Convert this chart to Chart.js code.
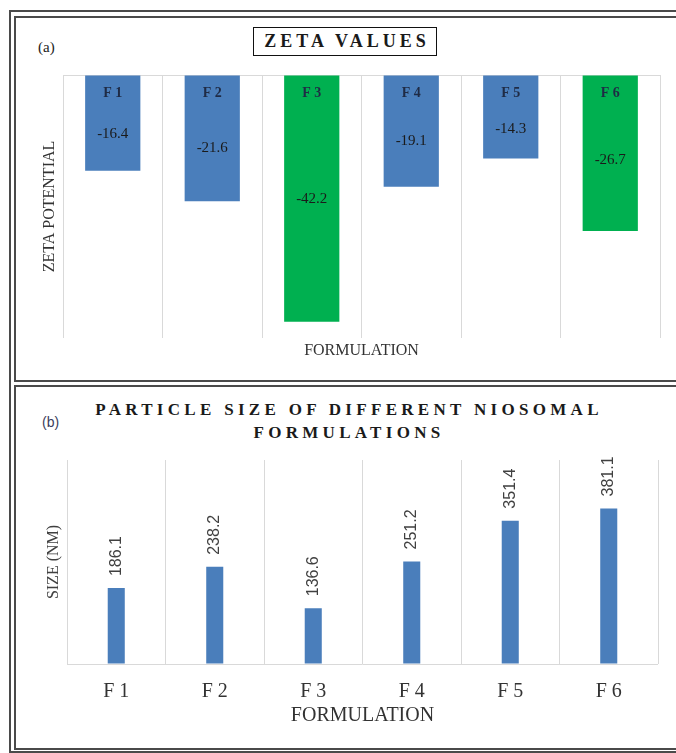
<!DOCTYPE html>
<html>
<head>
<meta charset="utf-8">
<script src="https://cdn.jsdelivr.net/npm/chart.js@4.4.1/dist/chart.umd.min.js"></script>
<style>
  html, body { margin: 0; padding: 0; background: #fff; }
  body { width: 676px; height: 753px; position: relative; overflow: hidden; font-family: 'Liberation Serif', 'Times New Roman', serif; }
  .frame { position: absolute; box-sizing: border-box; border: 2px solid #4a4a4a; }
  #outer { left: 9px; top: 10px; width: 720px; height: 743px; }
  #panelA { left: 14px; top: 16px; width: 720px; height: 366px; }
  #panelB { left: 14px; top: 385px; width: 720px; height: 365px; }
  canvas { position: absolute; }
  #zetaChart { left: 15px; top: 17px; }
  #sizeChart { left: 15px; top: 386px; }
  .tag { position: absolute; font-size: 15px; color: #222; line-height: 1; }
  #tagA { left: 38px; top: 40px; }
  #tagB { left: 42px; top: 415px; font-family: 'Liberation Sans', sans-serif; color: #3a3d5c; font-size: 14px; }
  #titleA { position: absolute; left: 253px; top: 27px; width: 184px; height: 29px; box-sizing: border-box;
            border: 1.5px solid #111; font-weight: bold; font-size: 18px; letter-spacing: 4px; padding-left: 4px;
            text-align: center; line-height: 26px; color: #1a1a1a; }
  #titleB { position: absolute; left: 40px; top: 398px; width: 610px; text-align: center; font-weight: bold;
            font-size: 17px; letter-spacing: 4.3px; line-height: 23px; color: #1a1a1a; padding-left: 4px; }
</style>
</head>
<body>
<div class="frame" id="outer"></div>
<div class="frame" id="panelA"></div>
<div class="frame" id="panelB"></div>
<div class="tag" id="tagA">(a)</div>
<div class="tag" id="tagB">(b)</div>
<div id="titleA">ZETA VALUES</div>
<div id="titleB">PARTICLE SIZE OF DIFFERENT NIOSOMAL<br>FORMULATIONS</div>
<canvas id="zetaChart" width="661" height="363"></canvas>
<canvas id="sizeChart" width="661" height="362"></canvas>
<script>
// Formulations and measured values
const categories = ['F 1', 'F 2', 'F 3', 'F 4', 'F 5', 'F 6'];
const zetaValues = [-16.4, -21.6, -42.2, -19.1, -14.3, -26.7];   // mV
const sizeValues = [186.1, 238.2, 136.6, 251.2, 351.4, 381.1];   // nm

const BLUE = '#4a7ebb';
const GREEN = '#00b050';
const GRID = '#d9d9d9';
const zetaColors = [BLUE, BLUE, GREEN, BLUE, BLUE, GREEN];

Chart.defaults.font.family = "'Liberation Serif', 'Times New Roman', serif";

// Category name near the top of each hanging bar, value lower inside it
const zetaLabels = {
  id: 'zetaLabels',
  afterDatasetsDraw(chart) {
    const ctx = chart.ctx;
    const meta = chart.getDatasetMeta(0);
    ctx.save();
    ctx.textAlign = 'center';
    ctx.textBaseline = 'middle';
    meta.data.forEach((bar, i) => {
      const top = Math.min(bar.y, bar.base);
      const bottom = Math.max(bar.y, bar.base);
      ctx.font = "bold 14px 'Liberation Serif', serif";
      ctx.fillStyle = '#1f2b45';
      ctx.fillText(categories[i], bar.x, top + 18);
      ctx.font = "15px 'Liberation Serif', serif";
      ctx.fillStyle = '#1a1a1a';
      ctx.fillText(zetaValues[i].toFixed(1), bar.x, top + 0.43 * (bottom - top) + 18);
    });
    ctx.restore();
  }
};

// Rotated value labels above the size bars
const sizeLabels = {
  id: 'sizeLabels',
  afterDatasetsDraw(chart) {
    const ctx = chart.ctx;
    const meta = chart.getDatasetMeta(0);
    ctx.save();
    ctx.font = "16px 'Liberation Sans', sans-serif";
    ctx.fillStyle = '#404040';
    ctx.textAlign = 'left';
    ctx.textBaseline = 'middle';
    meta.data.forEach((bar, i) => {
      ctx.save();
      ctx.translate(bar.x, bar.y - 12);
      ctx.rotate(-Math.PI / 2);
      ctx.fillText(sizeValues[i].toFixed(1), 0, 0);
      ctx.restore();
    });
    ctx.restore();
  }
};

const zeroLine = (c) => (c.tick && c.tick.value === 0) ? GRID : 'rgba(0,0,0,0)';

new Chart(document.getElementById('zetaChart'), {
  type: 'bar',
  data: {
    labels: categories,
    datasets: [{ data: zetaValues, backgroundColor: zetaColors, categoryPercentage: 1, barPercentage: 0.555 }]
  },
  options: {
    responsive: false,
    animation: false,
    layout: { padding: { top: 58, right: 16, left: 0, bottom: 0 } },
    plugins: { legend: { display: false }, tooltip: { enabled: false } },
    scales: {
      x: {
        grid: { color: GRID, drawTicks: false, offset: true },
        border: { display: false },
        ticks: { display: false },
        title: { display: true, text: 'FORMULATION', color: '#333', font: { size: 16 }, padding: { top: 0, bottom: 20 } },
        afterFit(s) { s.height = 42; }
      },
      y: {
        min: -45, max: 0,
        grid: { color: zeroLine, drawTicks: false },
        border: { display: false },
        ticks: { display: false },
        title: { display: true, text: 'ZETA POTENTIAL', color: '#333', font: { size: 16 }, padding: { top: 25, bottom: 0 } },
        afterFit(s) { s.width = 48; }
      }
    }
  },
  plugins: [zetaLabels]
});

new Chart(document.getElementById('sizeChart'), {
  type: 'bar',
  data: {
    labels: categories,
    datasets: [{ data: sizeValues, backgroundColor: BLUE, categoryPercentage: 1, barPercentage: 0.173 }]
  },
  options: {
    responsive: false,
    animation: false,
    layout: { padding: { top: 74, right: 18, left: 0, bottom: 0 } },
    plugins: { legend: { display: false }, tooltip: { enabled: false } },
    scales: {
      x: {
        grid: { color: GRID, drawTicks: false, offset: true },
        border: { display: false },
        ticks: { color: '#333', font: { size: 20 }, padding: 16 },
        title: { display: true, text: 'FORMULATION', color: '#333', font: { size: 20 }, padding: { top: 0, bottom: 20 } },
        afterFit(s) { s.height = 84; }
      },
      y: {
        min: 0, max: 500,
        grid: { color: zeroLine, drawTicks: false },
        border: { display: false },
        ticks: { display: false },
        title: { display: true, text: 'SIZE (NM)', color: '#404040', font: { size: 16 }, padding: { top: 29, bottom: 0 } },
        afterFit(s) { s.width = 52; }
      }
    }
  },
  plugins: [sizeLabels]
});
</script>
</body>
</html>
